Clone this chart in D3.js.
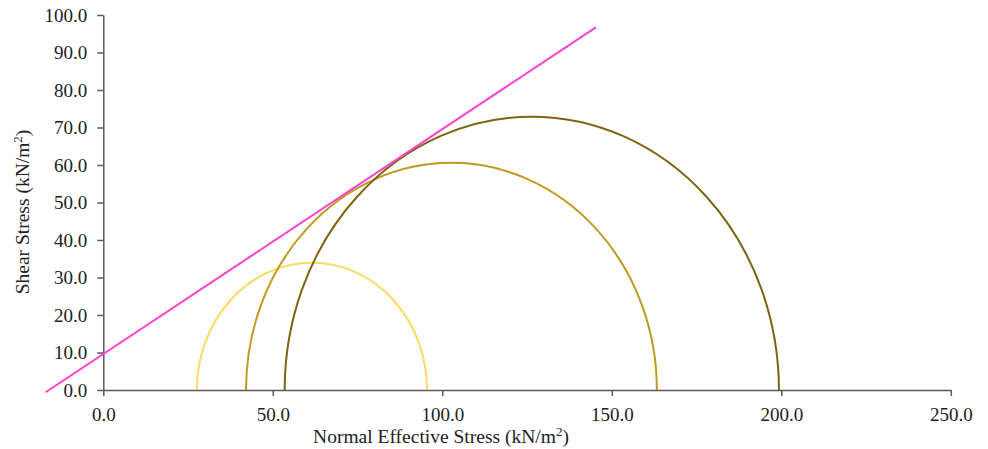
<!DOCTYPE html>
<html>
<head>
<meta charset="utf-8">
<script src="https://cdn.jsdelivr.net/npm/d3@7"></script>
<style>
  body { margin: 0; background: #fff; }
  text { font-family: "Liberation Serif", "Times New Roman", serif; fill: #222; }
</style>
</head>
<body>
<script>
var width = 988, height = 449;

// Mohr circles: sigma3, sigma1 (kN/m2)
var sigma3 = [27.6, 42.1, 53.5];
var sigma1 = [95.5, 163.3, 199.3];
var circleColors = ["#FFD966", "#C09A1E", "#7F6410"];

// failure envelope end points
var envX = [-17.0, 145.3];
var envY = [-0.6, 96.7];

var xTicks = [0, 50, 100, 150, 200, 250];
var yTicks = [0, 10, 20, 30, 40, 50, 60, 70, 80, 90, 100];

var svg = d3.select("body")
  .append("svg")
  .attr("width", width)
  .attr("height", height);

var xscale = d3.scaleLinear().domain([0, 250]).range([103.3, 950.8]);
var yscale = d3.scaleLinear().domain([0, 100]).range([390, 15]);

var xAxis = d3.axisBottom(xscale).tickValues(xTicks).tickFormat(d3.format(".1f"))
  .tickSizeInner(6).tickSizeOuter(0).tickPadding(12);
var yAxis = d3.axisLeft(yscale).tickValues(yTicks).tickFormat(d3.format(".1f"))
  .tickSizeInner(6).tickSizeOuter(0).tickPadding(10);

var gx = svg.append("g").attr("transform", "translate(0," + yscale(0) + ")").call(xAxis);
var gy = svg.append("g").attr("transform", "translate(" + xscale(0) + ",0)").call(yAxis);

[gx, gy].forEach(function(g){
  g.selectAll("path, line").attr("stroke", "#595959").attr("stroke-width", 1.5);
  g.selectAll("text").style("font-family", "Liberation Serif").style("font-size", "19px").attr("fill", "#222");
});

// circles as elliptical arcs in pixel space
var circles = svg.append("g").attr("fill", "none").attr("stroke-width", 2);
sigma3.forEach(function(s3, i){
  var s1 = sigma1[i];
  var r = (s1 - s3) / 2;
  var rx = xscale(s1) - xscale(s3 + r);
  var ry = yscale(0) - yscale(r);
  circles.append("path")
    .attr("d", "M" + xscale(s3) + "," + yscale(0) +
      " A" + rx + "," + ry + " 0 0 1 " + xscale(s1) + "," + yscale(0))
    .attr("stroke", circleColors[i]);
});

// envelope
var line = d3.line().x(function(d){ return xscale(d[0]); }).y(function(d){ return yscale(d[1]); });
svg.append("path")
  .datum(envX.map(function(x, i){ return [x, envY[i]]; }))
  .attr("d", line)
  .attr("fill", "none")
  .attr("stroke", "#FF3FCF")
  .attr("stroke-width", 2);

// titles
var xt = svg.append("text")
  .attr("x", 441).attr("y", 443)
  .attr("text-anchor", "middle")
  .style("font-size", "19.5px");
xt.append("tspan").text("Normal Effective Stress (kN/m");
xt.append("tspan").attr("dy", -7).style("font-size", "13px").text("2");
xt.append("tspan").attr("dy", 7).text(")");

var yt = svg.append("text")
  .attr("transform", "translate(29,212) rotate(-90)")
  .attr("text-anchor", "middle")
  .style("font-size", "19.5px");
yt.append("tspan").text("Shear Stress (kN/m");
yt.append("tspan").attr("dy", -7).style("font-size", "13px").text("2");
yt.append("tspan").attr("dy", 7).text(")");
</script>
</body>
</html>
